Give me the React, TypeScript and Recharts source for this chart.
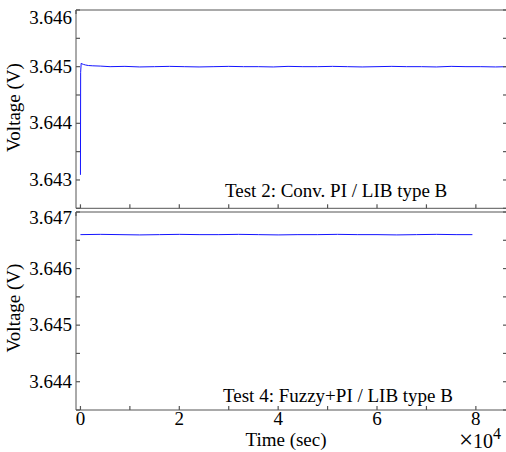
import React from "react";
import { LineChart, Line, XAxis, YAxis } from "recharts";

// Test 2: Conv. PI / LIB type B
const test2Time = [
  0, 40, 150, 300, 600, 1000, 1600, 2500, 4000, 6000, 9000, 12000, 15000,
  18000, 21000, 24000, 27000, 30000, 33000, 36000, 39000, 42000, 45000, 48000,
  51000, 54000, 57000, 60000, 63000, 66000, 69000, 72000, 75000, 78000, 81000,
  84000, 86300,
];
const test2Volt = [
  3.64309, 3.6449, 3.64506, 3.64505, 3.64504, 3.64503, 3.64502, 3.645015,
  3.64501, 3.645, 3.645005, 3.644995, 3.645, 3.645005, 3.645, 3.644995, 3.645,
  3.645005, 3.645, 3.645, 3.644995, 3.645005, 3.645, 3.645, 3.645005, 3.645,
  3.644995, 3.645, 3.645005, 3.645, 3.645, 3.644995, 3.645005, 3.645, 3.645,
  3.644995, 3.645,
];

// Test 4: Fuzzy+PI / LIB type B
const test4Time = [
  0, 4000, 8000, 12000, 16000, 20000, 24000, 28000, 32000, 36000, 40000, 44000,
  48000, 52000, 56000, 60000, 64000, 68000, 72000, 76000, 79300,
];
const test4Volt = [
  3.6466, 3.646605, 3.6466, 3.646595, 3.6466, 3.646605, 3.6466, 3.6466,
  3.646605, 3.6466, 3.646595, 3.6466, 3.6466, 3.646605, 3.6466, 3.6466,
  3.646595, 3.6466, 3.646605, 3.6466, 3.6466,
];

const timeTicks = [0, 10000, 20000, 30000, 40000, 50000, 60000, 70000, 80000];
const timeLabels = ["0", "", "2", "", "4", "", "6", "", "8"];

const topYTicks = [3.6425, 3.643, 3.6435, 3.644, 3.6445, 3.645, 3.6455, 3.646];
const topYLabels = ["", "3.643", "", "3.644", "", "3.645", "", "3.646"];
const botYTicks = [3.6435, 3.644, 3.6445, 3.645, 3.6455, 3.646, 3.6465, 3.647];
const botYLabels = ["", "3.644", "", "3.645", "", "3.646", "", "3.647"];

const timeDomain = [-900, 86300];
const topDomain = [3.6425, 3.646];
const botDomain = [3.6435, 3.647];

const FONT = "Liberation Serif, Times New Roman, serif";
const AXIS = "#555";
const LINE = "#1414ff";
const TXT = "#000";

const PLOT_LEFT = 76;
const PLOT_RIGHT = 507;
const TICK = 4;

const test2Data = test2Time.map((t, i) => ({ t, v: test2Volt[i] }));
const test4Data = test4Time.map((t, i) => ({ t, v: test4Volt[i] }));

const textStyle = { fontFamily: FONT };

const makeLeftTick = (labels: string[], topShift: number) => (props: any) => {
  const { y, index } = props;
  const label = labels[index];
  const shift = index === labels.length - 1 ? topShift : 0;
  return (
    <g>
      <line x1={PLOT_LEFT} x2={PLOT_LEFT + TICK} y1={y} y2={y} stroke={AXIS} strokeWidth={1.2} />
      {label ? (
        <text x={72} y={y + 6 + shift} textAnchor="end" fontSize={19} fill={TXT} style={textStyle}>
          {label}
        </text>
      ) : null}
    </g>
  );
};

const RightTick = (props: any) => (
  <line x1={PLOT_RIGHT - TICK} x2={PLOT_RIGHT} y1={props.y} y2={props.y} stroke={AXIS} strokeWidth={1.2} />
);

const makeBottomTick = (plotBottom: number, showLabels: boolean) => (props: any) => {
  const { x, index } = props;
  const label = showLabels ? timeLabels[index] : "";
  return (
    <g>
      <line x1={x} x2={x} y1={plotBottom} y2={plotBottom - TICK} stroke={AXIS} strokeWidth={1.2} />
      {label ? (
        <text x={x} y={plotBottom + 15} textAnchor="middle" fontSize={19} fill={TXT} style={textStyle}>
          {label}
        </text>
      ) : null}
    </g>
  );
};

const makeTopTick = (plotTop: number) => (props: any) => (
  <line x1={props.x} x2={props.x} y1={plotTop} y2={plotTop + TICK} stroke={AXIS} strokeWidth={1.2} />
);

type PanelProps = {
  data: { t: number; v: number }[];
  domain: number[];
  yTicks: number[];
  yLabels: string[];
  topShift: number;
  height: number;
  plotTop: number;
  plotBottom: number;
  showX: boolean;
};

const Panel = ({ data, domain, yTicks, yLabels, topShift, height, plotTop, plotBottom, showX }: PanelProps) => (
  <LineChart
    width={512}
    height={height}
    data={data}
    margin={{ top: plotTop - 1, right: 512 - PLOT_RIGHT - 1, left: 0, bottom: height - plotBottom - 1 }}
  >
    <XAxis
      dataKey="t"
      type="number"
      domain={timeDomain}
      ticks={timeTicks}
      allowDataOverflow
      height={1}
      stroke={AXIS}
      tickLine={false}
      interval={0}
      tick={makeBottomTick(plotBottom, showX)}
    />
    <XAxis
      xAxisId="top"
      orientation="top"
      type="number"
      domain={timeDomain}
      ticks={timeTicks}
      allowDataOverflow
      height={1}
      stroke={AXIS}
      tickLine={false}
      interval={0}
      tick={makeTopTick(plotTop)}
    />
    <YAxis
      type="number"
      domain={domain}
      ticks={yTicks}
      allowDataOverflow
      width={PLOT_LEFT}
      stroke={AXIS}
      tickLine={false}
      interval={0}
      tick={makeLeftTick(yLabels, topShift)}
    />
    <YAxis
      yAxisId="right"
      orientation="right"
      type="number"
      domain={domain}
      ticks={yTicks}
      allowDataOverflow
      width={1}
      stroke={AXIS}
      tickLine={false}
      interval={0}
      tick={RightTick}
    />
    <Line
      dataKey="v"
      stroke={LINE}
      strokeWidth={1}
      dot={false}
      isAnimationActive={false}
    />
  </LineChart>
);

export default function App() {
  return (
    <div
      style={{
        position: "absolute",
        top: 0,
        left: 0,
        width: 506,
        height: 452,
        overflow: "hidden",
        background: "#fff",
      }}
    >
      <div style={{ position: "absolute", top: 0, left: 0 }}>
        <Panel
          data={test2Data}
          domain={topDomain}
          yTicks={topYTicks}
          yLabels={topYLabels}
          topShift={8}
          height={220}
          plotTop={10}
          plotBottom={208.3}
          showX={false}
        />
      </div>
      <div style={{ position: "absolute", top: 200, left: 0 }}>
        <Panel
          data={test4Data}
          domain={botDomain}
          yTicks={botYTicks}
          yLabels={botYLabels}
          topShift={6}
          height={252}
          plotTop={12}
          plotBottom={210}
          showX={true}
        />
      </div>
      <svg
        width={506}
        height={452}
        style={{ position: "absolute", top: 0, left: 0, pointerEvents: "none", fontFamily: FONT }}
        fill={TXT}
      >
        <text x={225} y={196.5} fontSize={19}>
          Test 2: Conv. PI / LIB type B
        </text>
        <text x={223} y={401.5} fontSize={19}>
          Test 4: Fuzzy+PI / LIB type B
        </text>
        <text transform="translate(20,107.5) rotate(-90)" textAnchor="middle" fontSize={19}>
          Voltage (V)
        </text>
        <text transform="translate(20,308) rotate(-90)" textAnchor="middle" fontSize={19}>
          Voltage (V)
        </text>
        <text x={286} y={446} textAnchor="middle" fontSize={19}>
          Time (sec)
        </text>
        <text x={459} y={448} fontSize={20}>
          <tspan fontSize={25}>×</tspan>
          <tspan>10</tspan>
          <tspan dy={-9} fontSize={16}>
            4
          </tspan>
        </text>
      </svg>
    </div>
  );
}
